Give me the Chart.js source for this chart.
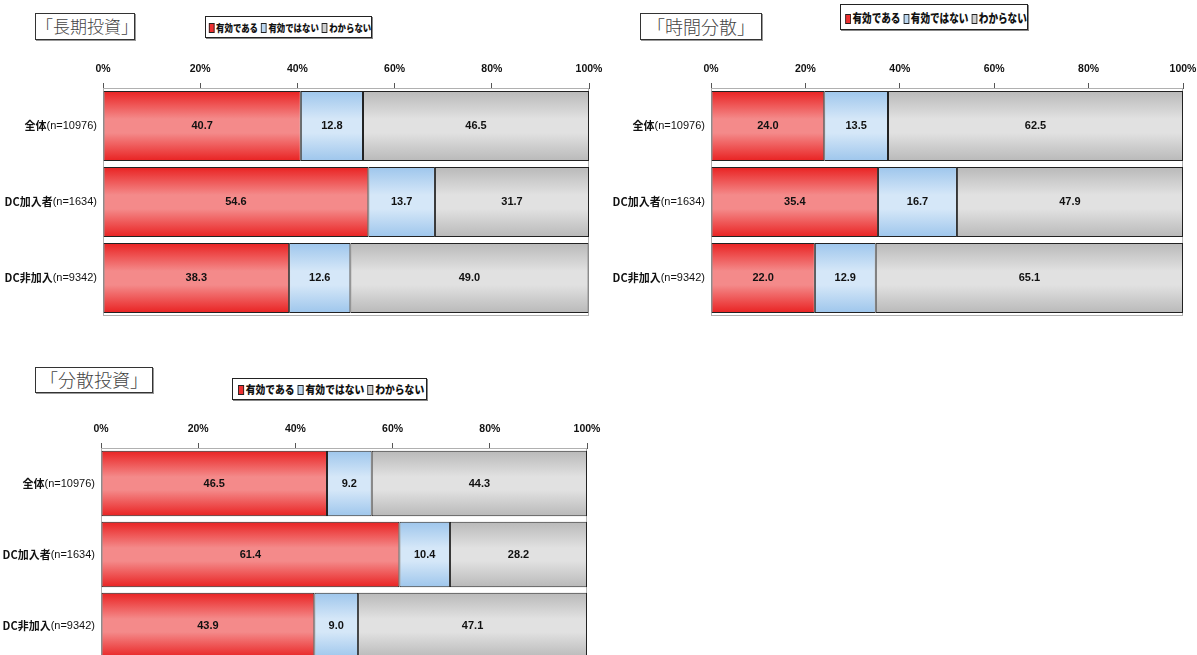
<!DOCTYPE html>
<html>
<head>
<meta charset="utf-8">
<script src="https://cdn.jsdelivr.net/npm/chart.js@4.4.1/dist/chart.umd.min.js"></script>
<style>
  html, body { margin: 0; padding: 0; background: #fff; overflow: hidden; }
  body { width: 1197px; height: 655px; position: relative; }
  .wrap { position: absolute; }
  .title {
    position: absolute; border: 1px solid #333; box-shadow: 1px 1px 0 #999;
    font-family: "Noto Sans CJK JP", sans-serif; font-weight: 300; color: #444;
    text-align: center; background: #fff; box-sizing: border-box; white-space: nowrap;
  }
  .legend {
    position: absolute; border: 1px solid #222; box-shadow: 1px 1px 0 #888;
    font-family: "Noto Sans CJK JP", sans-serif; font-weight: 900; color: #111;
    background: #fff; box-sizing: border-box; white-space: nowrap;
    display: flex; align-items: center; justify-content: center;
  }
  .legend .inner { flex-shrink: 0; display: inline-block; transform-origin: center; }
  .legend .sw {
    display: inline-block; border: 1px solid #222; margin: 0 2px 0 4px;
    vertical-align: -1px;
  }
</style>
</head>
<body>
<div class="title" style="left:35px;top:13px;width:100px;height:27px;font-size:17px;line-height:24px;">「長期投資」</div>
<div class="legend" id="legend1" data-sx="0.8" style="left:205px;top:16px;width:167px;height:22px;font-size:10.5px;"></div>
<div class="wrap" style="left:0;top:50px;width:610px;height:266px;"><canvas id="chart1"></canvas></div>

<div class="title" style="left:640px;top:13px;width:122px;height:27px;font-size:18px;line-height:24px;">「時間分散」</div>
<div class="legend" id="legend2" data-sx="0.8" style="left:840px;top:4px;width:188px;height:26px;font-size:12px;"></div>
<div class="wrap" style="left:606px;top:50px;width:591px;height:266px;"><canvas id="chart2"></canvas></div>

<div class="title" style="left:35px;top:367px;width:118px;height:26px;font-size:18px;line-height:23px;">「分散投資」</div>
<div class="legend" id="legend3" data-sx="0.85" style="left:232px;top:378px;width:195px;height:22px;font-size:11.5px;"></div>
<div class="wrap" style="left:0;top:410px;width:610px;height:251px;"><canvas id="chart3"></canvas></div>

<script>
const categories = ['全体', 'DC加入者', 'DC非加入'];
const sampleSizes = ['(n=10976)', '(n=1634)', '(n=9342)'];
const seriesNames = ['有効である', '有効ではない', 'わからない'];
const tickLabels = ['0%', '20%', '40%', '60%', '80%', '100%'];

// 「長期投資」
const longTermYes = [40.7, 54.6, 38.3];
const longTermNo = [12.8, 13.7, 12.6];
const longTermUnknown = [46.5, 31.7, 49.0];

// 「時間分散」
const timeDivYes = [24.0, 35.4, 22.0];
const timeDivNo = [13.5, 16.7, 12.9];
const timeDivUnknown = [62.5, 47.9, 65.1];

// 「分散投資」
const diversifyYes = [46.5, 61.4, 43.9];
const diversifyNo = [9.2, 10.4, 9.0];
const diversifyUnknown = [44.3, 28.2, 47.1];

const narrow = "'Liberation Sans Narrow', 'Liberation Sans', Arial, sans-serif";
const jp = "'Noto Sans CJK JP', sans-serif";

const swatchColors = ['#ee3030', '#bcd8f2', '#d0d0d0'];
const gradStops = [
  ['#e92222', '#f48a8a'],
  ['#9ec6ec', '#d5e7f8'],
  ['#b9b9b9', '#e1e1e1']
];
const BAR_PCT = 0.92;

function gradientFill(stops) {
  return function(ctx) {
    const chart = ctx.chart;
    const area = chart.chartArea;
    if (!area) return stops[1];
    const cy = chart.scales.y.getPixelForValue(ctx.dataIndex);
    const half = (area.bottom - area.top) / categories.length * BAR_PCT / 2;
    const g = chart.ctx.createLinearGradient(0, cy - half, 0, cy + half);
    g.addColorStop(0, stops[0]);
    g.addColorStop(0.4, stops[1]);
    g.addColorStop(0.6, stops[1]);
    g.addColorStop(1, stops[0]);
    return g;
  };
}

function buildLegend(id) {
  const el = document.getElementById(id);
  let html = '<span class="inner" style="transform:scaleX(' + el.dataset.sx + ')">';
  for (let i = 0; i < seriesNames.length; i++) {
    html += '<span class="sw" style="width:5px;height:8px;background:' + swatchColors[i] + ';"></span>' + seriesNames[i];
  }
  html += '</span>';
  el.innerHTML = html;
}

const valueLabels = {
  id: 'valueLabels',
  afterDatasetsDraw(chart) {
    const ctx = chart.ctx;
    ctx.save();
    ctx.font = 'bold 11px ' + narrow;
    ctx.fillStyle = '#111';
    ctx.textAlign = 'center';
    ctx.textBaseline = 'middle';
    chart.data.datasets.forEach((ds, i) => {
      chart.getDatasetMeta(i).data.forEach((bar, j) => {
        ctx.fillText(ds.data[j].toFixed(1), (bar.x + bar.base) / 2, bar.y);
      });
    });
    ctx.restore();
  }
};

const categoryLabels = {
  id: 'categoryLabels',
  afterDraw(chart) {
    const ctx = chart.ctx;
    const yScale = chart.scales.y;
    const right = chart.chartArea.left - 6;
    ctx.save();
    ctx.textBaseline = 'middle';
    ctx.textAlign = 'left';
    ctx.fillStyle = '#111';
    categories.forEach((name, i) => {
      const y = yScale.getPixelForTick(i);
      ctx.font = '11px ' + narrow;
      const w2 = ctx.measureText(sampleSizes[i]).width;
      ctx.font = 'bold 11px ' + jp;
      const w1 = ctx.measureText(name).width;
      ctx.fillText(name, right - w1 - w2, y);
      ctx.font = '11px ' + narrow;
      ctx.fillText(sampleSizes[i], right - w2, y);
    });
    ctx.restore();
  }
};

const plotFrame = {
  id: 'plotFrame',
  beforeDatasetsDraw(chart) {
    const a = chart.chartArea;
    const ctx = chart.ctx;
    ctx.save();
    ctx.strokeStyle = '#b0b0b0';
    ctx.lineWidth = 1;
    ctx.strokeRect(a.left + 0.5, a.top + 0.5, a.right - a.left - 1, a.bottom - a.top - 1);
    ctx.restore();
  }
};

function makeChart(id, yes, no, unknown, geo) {
  const values = [yes, no, unknown];
  return new Chart(document.getElementById(id), {
    type: 'bar',
    data: {
      labels: categories,
      datasets: seriesNames.map((name, i) => ({
        label: name,
        data: values[i],
        backgroundColor: gradientFill(gradStops[i]),
        borderColor: '#222',
        borderWidth: 1,
        borderSkipped: false,
        barPercentage: BAR_PCT,
        categoryPercentage: 1
      }))
    },
    options: {
      indexAxis: 'y',
      responsive: true,
      maintainAspectRatio: false,
      animation: false,
      layout: { padding: { top: 0, right: geo.right, bottom: 0, left: 0 } },
      plugins: { legend: { display: false }, tooltip: { enabled: false } },
      scales: {
        x: {
          position: 'top',
          stacked: true,
          min: 0,
          max: 100,
          ticks: {
            stepSize: 20,
            padding: 8,
            color: '#111',
            font: { family: narrow, size: 10.5, weight: 'bold' },
            callback: (v, i) => tickLabels[i]
          },
          grid: { drawOnChartArea: false, tickLength: 5, color: '#555' },
          border: { color: '#555' },
          afterFit(scale) {
            scale.height = 38;
            scale.paddingLeft = 0;
            scale.paddingRight = 0;
          }
        },
        y: {
          stacked: true,
          ticks: { display: false },
          grid: { display: false },
          border: { color: '#555' },
          afterFit(scale) { scale.width = geo.left; }
        }
      }
    },
    plugins: [plotFrame, valueLabels, categoryLabels]
  });
}

buildLegend('legend1');
buildLegend('legend2');
buildLegend('legend3');

makeChart('chart1', longTermYes, longTermNo, longTermUnknown, { left: 103, right: 21 });
makeChart('chart2', timeDivYes, timeDivNo, timeDivUnknown, { left: 105, right: 14 });
makeChart('chart3', diversifyYes, diversifyNo, diversifyUnknown, { left: 101, right: 23 });
</script>
</body>
</html>
